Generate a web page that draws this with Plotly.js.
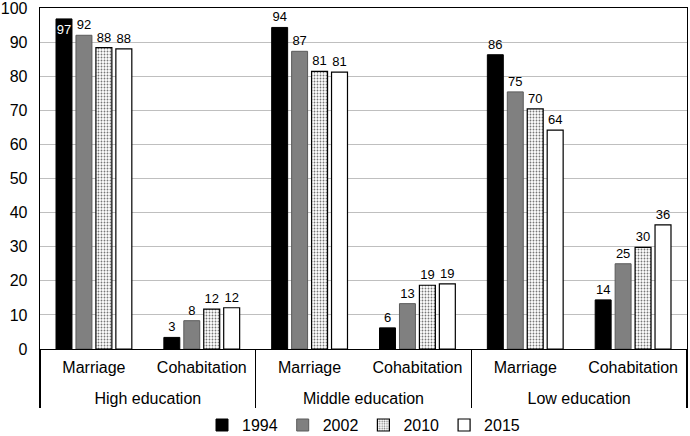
<!DOCTYPE html>
<html>
<head>
<meta charset="utf-8">
<script src="https://cdn.plot.ly/plotly-3.0.1.min.js"></script>
<style>
  html, body { margin: 0; padding: 0; background: #fff; }
  #chart { width: 690px; height: 436px; }
</style>
</head>
<body>
<div id="chart"></div>
<script>
const groups = ["High education", "High education", "Middle education", "Middle education", "Low education", "Low education"];
const unions = ["Marriage", "Cohabitation", "Marriage", "Cohabitation", "Marriage", "Cohabitation"];

const years = ["1994", "2002", "2010", "2015"];
const v1994 = [96.8, 3.4, 94.3, 6.2, 86.3, 14.4];
const v2002 = [92.0, 8.3, 87.3, 13.3, 75.4, 25.0];
const v2010 = [88.4, 11.7, 81.4, 18.7, 70.4, 29.8];
const v2015 = [88.0, 12.1, 81.2, 19.1, 64.2, 36.4];

const yTicks = [0, 10, 20, 30, 40, 50, 60, 70, 80, 90, 100];

const FONT = "Liberation Sans, Arial, sans-serif";

// category labels are drawn at 16px; the axis font is larger only to open up
// the gap between the two label rows like in the original
const small = s => `<span style="font-size:16px">${s}</span>`;
const x = [groups.map(small), unions.map(small)];

function labels(vals) {
  return vals.map(v => String(Math.round(v)));
}

const traces = [
  {
    name: years[0], y: v1994,
    marker: { color: "#000000", line: { color: "#000000", width: 1 } },
    textposition: ["inside", "outside", "outside", "outside", "outside", "outside"],
  },
  {
    name: years[1], y: v2002,
    marker: { color: "#808080", line: { color: "#5a5a5a", width: 1 } },
    textposition: "outside",
  },
  {
    name: years[2], y: v2010,
    marker: {
      color: "#ffffff",
      line: { color: "#000000", width: 1.2 },
      pattern: { shape: ".", fgcolor: "#777777", bgcolor: "#ffffff", size: 3, solidity: 0.3 },
    },
    textposition: "outside",
  },
  {
    name: years[3], y: v2015,
    marker: { color: "#ffffff", line: { color: "#000000", width: 1.2 } },
    textposition: "outside",
  },
].map(t => Object.assign({
  type: "bar",
  x: x,
  text: labels(t.y),
  textangle: 0,
  constraintext: "none",
  cliponaxis: false,
  outsidetextfont: { family: FONT, size: 13, color: "#000" },
  insidetextfont: { family: FONT, size: 13, color: "#fff" },
  hoverinfo: "none",
}, t));

Plotly.newPlot("chart", traces, {
  width: 690,
  height: 436,
  margin: { l: 40, r: 3, t: 8, b: 87 },
  paper_bgcolor: "#fff",
  plot_bgcolor: "#fff",
  font: { family: FONT, size: 16, color: "#000" },
  barmode: "group",
  bargap: 0.26,
  bargroupgap: 0.2,
  showlegend: true,
  legend: {
    orientation: "h",
    x: 0.5, xanchor: "center",
    yref: "container",
    y: 0.025, yanchor: "middle",
    font: { family: FONT, size: 16, color: "#000" },
    traceorder: "normal",
    itemwidth: 30,
  },
  xaxis: {
    type: "multicategory",
    showline: true, mirror: true, linecolor: "#000", linewidth: 1.3,
    showgrid: false,
    ticks: "",
    ticklabelstandoff: -12,
    showdividers: true, dividercolor: "#000", dividerwidth: 1.3,
    tickfont: { family: FONT, size: 29, color: "#000" },
  },
  yaxis: {
    range: [0, 100],
    tickmode: "array",
    tickvals: yTicks,
    ticktext: yTicks.map(String),
    ticklabeloverflow: "allow",
    showline: true, mirror: true, linecolor: "#000", linewidth: 1.3,
    gridcolor: "#bfbfbf", gridwidth: 1,
    zeroline: false,
    ticks: "",
    ticklabelstandoff: 8,
    tickfont: { family: FONT, size: 16, color: "#000" },
  },
}, { staticPlot: true });
</script>
</body>
</html>
